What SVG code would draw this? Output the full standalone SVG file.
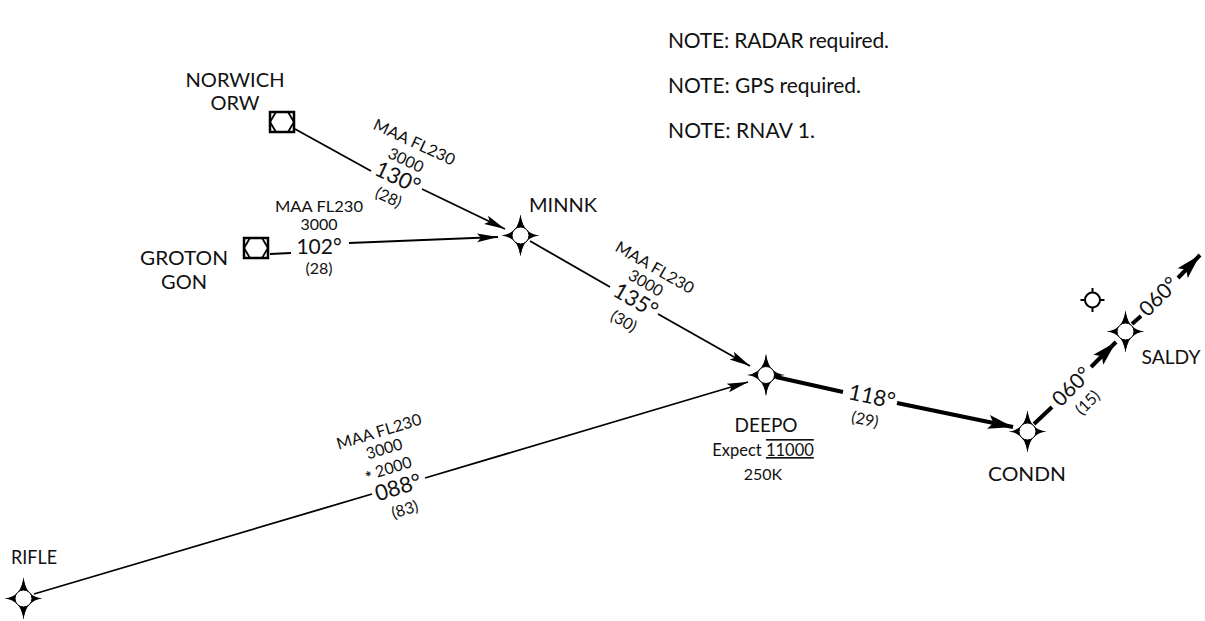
<svg xmlns="http://www.w3.org/2000/svg" width="1205" height="621" viewBox="0 0 1205 621">
<style>
text{font-family:"Lato","Liberation Sans",sans-serif;fill:#111;text-anchor:middle}
.n{font-size:20px}
.s{font-size:16px}
.c{font-size:22px}
.d{font-size:21px}
.l{font-size:21px;text-anchor:start}
.line{fill:none;stroke:#000;stroke-width:1.800}
.thick{fill:none;stroke:#000;stroke-width:4}
</style>
<defs>
<marker id="a" markerUnits="userSpaceOnUse" markerWidth="26" markerHeight="16" refX="21" refY="8" orient="auto"><path d="M0 3.500 L21 8 L0 12.500 L4 8Z" fill="#000"/></marker>
<marker id="b" markerUnits="userSpaceOnUse" markerWidth="30" markerHeight="20" refX="27" refY="10" orient="auto"><path d="M2 3 L27 10 L2 17 L7 10Z" fill="#000"/></marker>
<g id="wp"><path d="M0-21Q2-2 19 0Q2 2 0 21Q-2 2-19 0Q-2-2 0-21Z" fill="#000"/><path d="M0-21Q1.500-9 9 0Q1.500 9 0 21Q-1.500 9-9 0Q-1.500-9 0-21Z" fill="#000"/><circle r="8.500" fill="#fff" stroke="#000" stroke-width="1"/></g>
<g id="vor"><rect x="-12" y="-10" width="24" height="20" fill="#fff" stroke="#000" stroke-width="2.500"/><path d="M-12 0L-6-10H6L12 0L6 10H-6Z" fill="none" stroke="#000" stroke-width="1.800"/></g>
</defs>

<g id="connectors">
<path class="line" d="M295 129L371 171"/>
<path class="line" d="M422 189L505 229" marker-end="url(#a)"/>
<path class="line" d="M270 254L291 253"/>
<path class="line" d="M349 243L498 237" marker-end="url(#a)"/>
<path class="line" d="M530 241L610 287"/>
<path class="line" d="M658 314L750 366" marker-end="url(#a)"/>
<path class="line" d="M34 594L372 494"/>
<path class="line" d="M425 478L748 382" marker-end="url(#a)"/>
<path class="thick" d="M776 377L843 392"/>
<path class="thick" d="M897 403L1013 427" marker-end="url(#b)"/>
<path class="thick" d="M1034 424L1052 407"/>
<path class="thick" d="M1091 367L1116 342" marker-end="url(#b)"/>
<path class="thick" d="M1132 324L1141 316"/>
<path class="thick" d="M1178 278L1200 255" marker-end="url(#b)"/>
</g>

<g id="NORWICH"><use href="#vor" x="282" y="122"/><text class="n" x="235" y="87" textLength="99" lengthAdjust="spacingAndGlyphs">NORWICH</text><text class="n" x="235" y="110">ORW</text></g>
<g id="GROTON"><use href="#vor" x="256" y="248"/><text class="n" x="184" y="265" textLength="88" lengthAdjust="spacingAndGlyphs">GROTON</text><text class="n" x="184" y="289">GON</text></g>
<g id="MINNK"><use href="#wp" x="520.500" y="235.500"/><text class="n" x="563" y="212" textLength="68" lengthAdjust="spacingAndGlyphs">MINNK</text></g>
<g id="DEEPO"><use href="#wp" x="766" y="375"/><text class="n" x="766" y="432" textLength="63" lengthAdjust="spacingAndGlyphs">DEEPO</text><text class="s" x="763" y="456" style="font-size:16.500px">Expect <tspan text-decoration="underline overline">11000</tspan></text><text class="s" x="763" y="480">250K</text></g>
<g id="CONDN"><use href="#wp" x="1027.500" y="431.500"/><text class="n" x="1027" y="481" textLength="78" lengthAdjust="spacingAndGlyphs">CONDN</text></g>
<g id="SALDY"><use href="#wp" x="1125.500" y="331.500"/><text class="n" x="1171" y="364" textLength="59" lengthAdjust="spacingAndGlyphs">SALDY</text></g>
<g id="RIFLE"><use href="#wp" x="23.500" y="598.500"/><text class="n" x="34" y="564" textLength="46" lengthAdjust="spacingAndGlyphs">RIFLE</text></g>
<g id="FIX"><circle cx="1092.500" cy="300" r="7.500" fill="#fff" stroke="#000" stroke-width="2"/><path d="M1092.500 288V292M1092.500 308V312M1080.500 300H1085M1100 300H1104.500" stroke="#000" stroke-width="2"/></g>

<g id="notes">
<text class="l" x="668" y="48" textLength="221">NOTE: RADAR required.</text>
<text class="l" x="668" y="93" textLength="193">NOTE: GPS required.</text>
<text class="l" x="668" y="138" textLength="147">NOTE: RNAV 1.</text>
</g>

<g id="labels">
<g transform="translate(398 177) rotate(25)"><text class="s" x="0" y="-33" textLength="88" lengthAdjust="spacingAndGlyphs">MAA FL230</text><text class="s" x="0" y="-13">3000</text><text class="c" x="0" y="8">130°</text><text class="s" x="0" y="28">(28)</text></g>
<g transform="translate(319 240)"><text class="s" x="0" y="-28" textLength="88" lengthAdjust="spacingAndGlyphs">MAA FL230</text><text class="s" x="0" y="-10">3000</text><text class="d" x="0" y="14">102°</text><text class="s" x="0" y="34">(28)</text></g>
<g transform="translate(636 300) rotate(30)"><text class="s" x="0" y="-32" textLength="88" lengthAdjust="spacingAndGlyphs">MAA FL230</text><text class="s" x="0" y="-14">3000</text><text class="c" x="0" y="8">135°</text><text class="s" x="0" y="30">(30)</text></g>
<g transform="translate(398 487) rotate(-17)"><text class="s" x="-2" y="-53" textLength="88" lengthAdjust="spacingAndGlyphs">MAA FL230</text><text class="s" x="-2" y="-35">3000</text><text class="s" x="-4" y="-15"><tspan font-weight="700" dy="3">*</tspan><tspan dy="-3"> 2000</tspan></text><text class="c" x="0" y="8">088°</text><text class="s" x="0" y="29">(83)</text></g>
<g transform="translate(872 396) rotate(12)"><text class="c" x="0" y="8">118°</text><text class="s" x="-2" y="30">(29)</text></g>
<g transform="translate(1071 386) rotate(-45)"><text class="d" x="0" y="8">060°</text><text class="s" x="0" y="29">(15)</text></g>
<g transform="translate(1158 296) rotate(-45)"><text class="d" x="0" y="8">060°</text></g>
</g>
</svg>
